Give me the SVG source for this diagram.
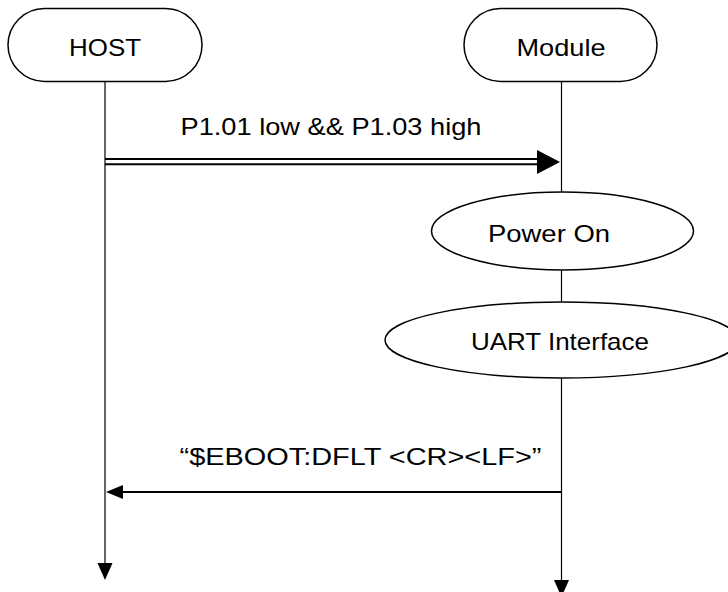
<svg xmlns="http://www.w3.org/2000/svg" width="728" height="592" viewBox="0 0 728 592">
<style>
.box{fill:#fff;stroke:#000;stroke-width:1.5}
.ln{stroke:#000;stroke-width:1.2;fill:none}
.t{font-family:"Liberation Sans",Arial,sans-serif;font-size:24px;fill:#000;text-anchor:middle}
.ah{fill:#000}
</style>
<rect width="728" height="592" fill="#fff"/>
<g id="connectors">
<line class="ln" x1="105" y1="82" x2="105" y2="564"/>
<polygon class="ah" points="97.5,563 112.5,563 105,580"/>
<line class="ln" x1="561.5" y1="82" x2="561.5" y2="192"/>
<line class="ln" x1="561.5" y1="270" x2="561.5" y2="302"/>
<line class="ln" x1="561.5" y1="378" x2="561.5" y2="581"/>
<polygon class="ah" points="554,580 569,580 561.5,597"/>
<line x1="105" y1="159" x2="540" y2="159" stroke="#000" stroke-width="2"/>
<line x1="105" y1="164.3" x2="540" y2="164.3" stroke="#000" stroke-width="2"/>
<polygon class="ah" points="537,150 560,162 537,174"/>
<text class="t" x="331" y="135" textLength="301" lengthAdjust="spacingAndGlyphs">P1.01 low &amp;&amp; P1.03 high</text>
<line x1="561.5" y1="492" x2="120" y2="492" stroke="#000" stroke-width="2"/>
<polygon class="ah" points="123,485 106,492 123,499"/>
<text class="t" x="360.5" y="465" textLength="362" lengthAdjust="spacingAndGlyphs">“$EBOOT:DFLT &lt;CR&gt;&lt;LF&gt;”</text>
</g>
<g id="host">
<rect class="box" x="8" y="8.5" width="194" height="73" rx="36.5" ry="36.5"/>
<text class="t" x="105" y="56" textLength="72" lengthAdjust="spacingAndGlyphs">HOST</text>
</g>
<g id="module">
<rect class="box" x="464" y="8.5" width="193" height="73" rx="36.5" ry="36.5"/>
<text class="t" x="561" y="56" textLength="89" lengthAdjust="spacingAndGlyphs">Module</text>
</g>
<g id="power-on">
<ellipse class="box" cx="562.5" cy="231" rx="131" ry="39"/>
<text class="t" x="549" y="241.5" textLength="122" lengthAdjust="spacingAndGlyphs">Power On</text>
</g>
<g id="uart-interface">
<ellipse class="box" cx="561.5" cy="340" rx="176.5" ry="38"/>
<text class="t" x="560" y="350" textLength="178" lengthAdjust="spacingAndGlyphs">UART Interface</text>
</g>
</svg>
